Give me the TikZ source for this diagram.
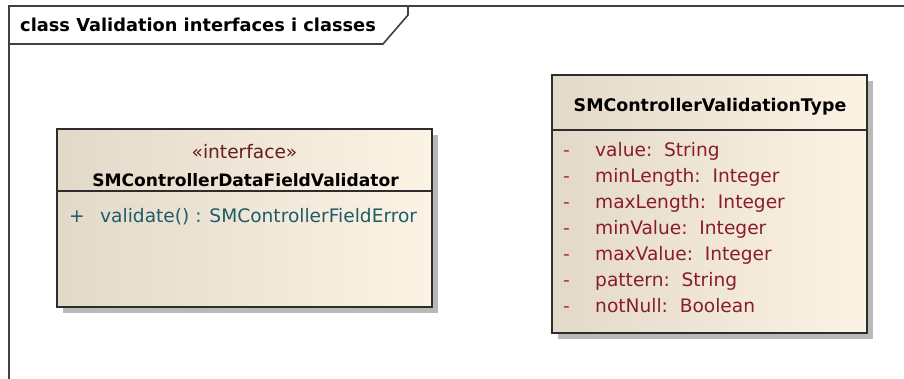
\documentclass[tikz,border=0pt]{standalone}
\usepackage{fontspec}
\setmainfont{DejaVu Sans}
\usetikzlibrary{shadows}

\definecolor{frameline}{RGB}{64,64,64}
\definecolor{boxline}{RGB}{45,45,45}
\definecolor{fillleft}{RGB}{226,217,201}
\definecolor{fillright}{RGB}{253,243,229}
\definecolor{shadowgray}{RGB}{185,185,185}
\definecolor{attrcol}{RGB}{138,28,42}
\definecolor{dashcol}{RGB}{170,45,45}
\definecolor{opcol}{RGB}{30,92,104}
\definecolor{stereocol}{RGB}{100,30,30}

\tikzset{
  classbox/.style={draw=boxline, line width=2pt, left color=fillleft, right color=fillright,
    drop shadow={shadow xshift=6pt, shadow yshift=-6pt, fill=shadowgray, opacity=1}},
  sep/.style={draw=boxline, line width=1.5pt},
  framestroke/.style={draw=frameline, line width=1.6pt},
  boldtxt/.style={font=\fontsize{17.1}{20}\selectfont\bfseries, inner sep=0pt},
  plaintxt/.style={font=\fontsize{18.6}{21}\selectfont, inner sep=0pt},
  attr/.style={plaintxt, text=attrcol, anchor=base west},
  vis/.style={plaintxt, anchor=base west},
}

\begin{document}
\begin{tikzpicture}[x=1pt,y=-1pt]
\useasboundingbox (0,0) rectangle (904,379);

% diagram frame with its name tab
\draw[framestroke] (904,6) -- (9,6) -- (9,379);
\draw[framestroke] (9,44) -- (383,44) -- (408,15) -- (408,6);
\node[boldtxt, anchor=base west, font=\fontsize{17.8}{20}\selectfont\bfseries] (frametitle) at (20,32) {class Validation interfaces i classes};

% interface SMControllerDataFieldValidator
\path[classbox] (57,129) rectangle (432,307);
\coordinate (ifaceL) at (57,191);
\coordinate (ifaceR) at (432,191);
\draw[sep] (ifaceL) -- (ifaceR);
\node[plaintxt, text=stereocol, anchor=base] (stereo) at (244.5,159) {«interface»};
\node[boldtxt, anchor=base] (ifacename) at (245.5,187) {SMControllerDataFieldValidator};
\node[vis, text=opcol] (opvis) at (69,223) {+};
\node[vis, text=opcol] (op) at (100,223) {validate() : SMControllerFieldError};

% class SMControllerValidationType
\path[classbox] (552,75) rectangle (867,333);
\coordinate (typeL) at (552,130);
\coordinate (typeR) at (867,130);
\draw[sep] (typeL) -- (typeR);
\node[boldtxt, anchor=base, font=\fontsize{17.4}{20}\selectfont\bfseries] (typename) at (710,112) {SMControllerValidationType};

\foreach \i/\txt in {0/{value:\ \ String},1/{minLength:\ \ Integer},2/{maxLength:\ \ Integer},
  3/{minValue:\ \ Integer},4/{maxValue:\ \ Integer},5/{pattern:\ \ String},6/{notNull:\ \ Boolean}}{
  \node[vis, text=dashcol] (dash\i) at (563,157+25.9*\i) {-};
  \node[attr] (attr\i) at (595,157+25.9*\i) {\txt};
}
\end{tikzpicture}
\end{document}
